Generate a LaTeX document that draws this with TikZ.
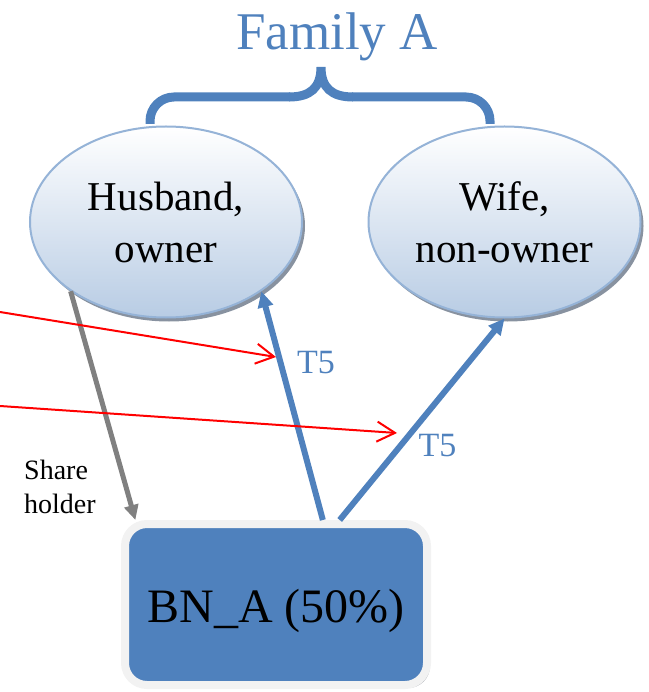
\documentclass[tikz,border=0pt]{standalone}
\usepackage{fontspec}
\setmainfont{Liberation Serif}
\usetikzlibrary{arrows.meta,shapes.geometric,shadows}

\definecolor{famblue}{RGB}{79,129,189}
\definecolor{ellline}{RGB}{149,179,215}
\definecolor{ellbottom}{RGB}{184,204,228}
\definecolor{ellshadow}{RGB}{136,146,160}
\definecolor{boxrim}{RGB}{242,242,242}
\definecolor{boxshadow}{RGB}{150,155,162}
\definecolor{sharegray}{RGB}{128,128,128}

\tikzset{
  person/.style={ellipse, inner sep=0pt, minimum width=272pt, minimum height=191pt,
    draw=ellline, line width=2pt, top color=white, bottom color=ellbottom,
    drop shadow={shadow xshift=3pt, shadow yshift=-4pt, fill=ellshadow, opacity=1},
    align=center, font=\fontsize{41}{52}\selectfont},
  bizbox/.style={rectangle, rounded corners=22pt, minimum width=302pt, minimum height=161pt,
    fill=famblue, draw=boxrim, line width=8pt, text height=35pt, text depth=0pt,
    drop shadow={shadow xshift=3pt, shadow yshift=-3pt, fill=boxshadow, opacity=1},
    font=\fontsize{48}{58}\selectfont},
  flow/.style={draw=famblue, line width=6pt, -{Triangle[length=16pt,width=15pt]}},
  holder/.style={draw=sharegray, line width=5pt, -{Triangle[length=15pt,width=14pt]}},
  transfer/.style={draw=red, line width=2pt, -{Straight Barb[length=18pt,width=20pt]}},
  tlabel/.style={text=famblue, font=\fontsize{34}{40}\selectfont, inner sep=0pt, anchor=base},
}

\begin{document}
\begin{tikzpicture}[x=1pt, y=-1pt]
\useasboundingbox (0,0) rectangle (648,692);

% family title and brace
\node[text=famblue, font=\fontsize{53}{60}\selectfont, inner sep=0pt, anchor=base] (fam) at (337,50) {Family A};
\draw[famblue, line width=9pt, rounded corners=24pt] (150,124) |- (290,97);
\draw[famblue, line width=9pt] (289,97) .. controls (310,97) and (321,88) .. (321,67)
   .. controls (321,88) and (332,97) .. (353,97);
\draw[famblue, line width=9pt, rounded corners=24pt] (352,97) -| (490,124);

% persons
\node[person] (husband) at (166,222) {Husband,\\owner};
\node[person] (wife) at (504.5,222) {Wife,\\non-owner};

% business
\node[bizbox] (bn) at (276,604.5) {BN\_A (50\%)};

% share holding
\draw[holder] (husband.216) -- (bn.149);
\node[font=\fontsize{28}{34}\selectfont, align=left, inner sep=0pt, anchor=north west] (share) at (24,460) {Share\\holder};

% transfers
\draw[flow] (bn.61) -- (husband.-36);
\draw[flow] (bn.53) -- (wife.south);
\node[tlabel] (t1) at (316,373) {T5};
\node[tlabel] (t2) at (437.5,456) {T5};

\coordinate (r1s) at (0,312);
\coordinate (r1e) at (276,357);
\coordinate (r2s) at (0,406);
\coordinate (r2e) at (397,433);
\draw[transfer] (r1s) -- (r1e);
\draw[transfer] (r2s) -- (r2e);
\end{tikzpicture}
\end{document}
